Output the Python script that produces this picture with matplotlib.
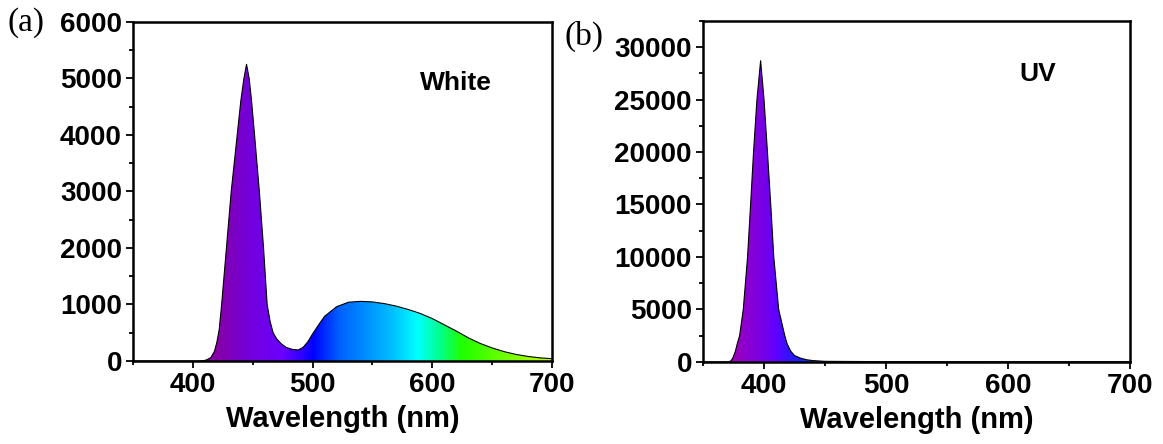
import numpy as np
import matplotlib
matplotlib.use('Agg')
import matplotlib.pyplot as plt
from matplotlib.colors import LinearSegmentedColormap
from matplotlib.ticker import MultipleLocator

# spectrum data
wl_white = [350, 380, 405, 410, 412, 415, 418, 420, 422, 424, 428, 432, 437, 440, 442.6, 444.8,
            447, 449, 451.5, 455.5, 459, 462, 464.5, 467, 470, 474, 478, 483, 488, 492, 496,
            500, 505, 510, 520, 530, 540, 550, 560, 570, 580, 590, 600, 610, 620, 630, 640, 650,
            660, 670, 680, 690, 700]
int_white = [0, 0, 0, 10, 25, 60, 170, 330, 560, 1000, 2000, 3000, 4000, 4600, 5000, 5250,
             5000, 4600, 4000, 3000, 2000, 1000, 700, 500, 390, 300, 240, 205, 195, 240, 340,
             480, 640, 790, 960, 1040, 1055, 1045, 1015, 970, 910, 840, 750, 640, 530, 410, 310,
             230, 165, 115, 80, 55, 40]

wl_uv = [350, 370, 371.5, 373, 374.5, 376.5, 378, 380, 383, 386.5, 389, 391.4, 394.2, 397.2,
         400, 402.8, 405.5, 408, 412, 417, 419, 422, 425, 430, 435, 440, 450, 500, 600, 700]
int_uv = [0, 0, 30, 100, 400, 1000, 1700, 2500, 5000, 10000, 15000, 20000, 25000, 28700,
          25000, 20000, 15000, 10000, 5000, 2500, 1700, 1000, 600, 350, 200, 120, 50, 20, 10, 10]

# gradient colour stops along wavelength
stops_white = [(350, '#900080'), (420, '#8500a8'), (445, '#7400d8'), (475, '#6a00ff'),
               (490, '#3000ff'), (500, '#0000ff'), (522, '#0060ff'), (545, '#0090ff'),
               (567, '#00c0ff'), (587, '#00ffff'), (606, '#00ff90'), (625, '#20ff00'),
               (654, '#60ff00'), (700, '#c0ff00')]
stops_uv = [(350, '#a00090'), (375, '#9a00b8'), (385, '#8c00d0'), (398, '#7800e4'),
            (408, '#6400ff'), (418, '#3a10ff'), (428, '#1a20ff'), (445, '#0040ff'),
            (500, '#0080ff'), (550, '#00a0a0'), (600, '#208040'), (700, '#606000')]

xmin, xmax = 350, 700

plt.rcParams['font.family'] = 'Liberation Sans'
plt.rcParams['font.weight'] = 'bold'

fig = plt.figure(figsize=(11.63, 4.44), dpi=100)
ax1 = fig.add_axes([0.1144, 0.187, 0.3603, 0.7635])
ax2 = fig.add_axes([0.6045, 0.185, 0.3671, 0.7680])


def draw_panel(ax, wl, inten, stops, ymax, ymaj, label, lx, ly):
    cmap = LinearSegmentedColormap.from_list(
        'spec', [((w - xmin) / (xmax - xmin), c) for w, c in stops])
    fill = ax.fill_between(wl, inten, 0, facecolor='none', edgecolor='none')
    grad = np.linspace(0, 1, 600)[None, :]
    im = ax.imshow(grad, extent=[xmin, xmax, 0, ymax], aspect='auto', cmap=cmap,
                   origin='lower', interpolation='bilinear')
    im.set_clip_path(fill.get_paths()[0], transform=ax.transData)
    ax.plot(wl, inten, color='black', lw=0.8)

    ax.set_xlim(xmin, xmax)
    ax.set_ylim(0, ymax)
    ax.xaxis.set_major_locator(MultipleLocator(100))
    ax.xaxis.set_minor_locator(MultipleLocator(50))
    ax.yaxis.set_major_locator(MultipleLocator(ymaj))
    ax.yaxis.set_minor_locator(MultipleLocator(ymaj / 2))
    ax.tick_params(which='both', direction='out', top=False, right=False, width=1.3,
                   labelsize=20, pad=3)
    ax.tick_params(which='major', length=5)
    ax.tick_params(which='minor', length=3)
    for s in ax.spines.values():
        s.set_linewidth(1.8)
    ax.set_xlabel('Wavelength (nm)', fontsize=21, fontweight='bold', labelpad=5)
    ax.text(lx, ly, label, fontsize=19, fontweight='bold', ha='center', va='center')


draw_panel(ax1, wl_white, int_white, stops_white, 6000, 1000, 'White', 620, 4920)
draw_panel(ax2, wl_uv, int_uv, stops_uv, 32500, 5000, 'UV', 624, 27430)

fig.text(0.022, 0.948, '(a)', fontsize=24, family='Liberation Serif', fontweight='normal',
         ha='center', va='center')
fig.text(0.502, 0.918, '(b)', fontsize=24, family='Liberation Serif', fontweight='normal',
         ha='center', va='center')

fig.savefig('out.png', dpi=100)
